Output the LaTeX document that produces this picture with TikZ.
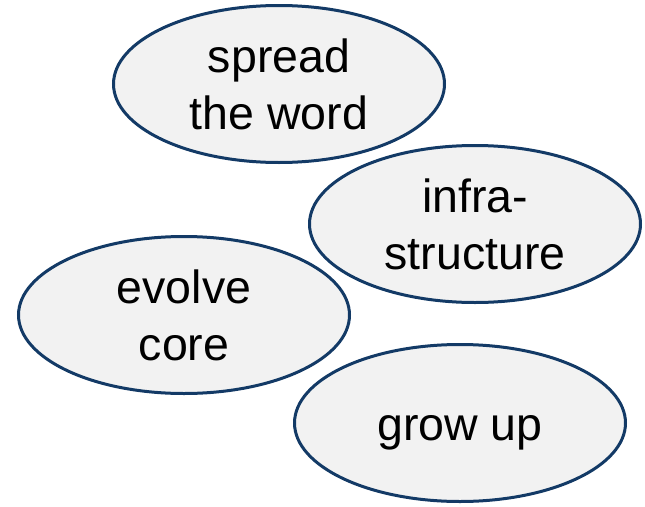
\documentclass[tikz,border=0pt]{standalone}
\usepackage{fontspec}
\setmainfont{Liberation Sans}
\usetikzlibrary{shapes.geometric}
\definecolor{edgeblue}{HTML}{133A66}
\definecolor{fillgray}{HTML}{F2F2F2}
\tikzset{
  bubble/.style={ellipse, draw=edgeblue, fill=fillgray, line width=3pt,
    minimum width=331pt, minimum height=157pt, inner sep=0pt, align=center,
    font=\fontsize{46.5}{57}\selectfont, text=black}
}
\begin{document}
\begin{tikzpicture}[x=1pt,y=1pt]
\useasboundingbox (0,0) rectangle (645,-506);
\node[bubble] (spread) at (279,-84) {spread\\the word};
\node[bubble] (infra) at (475,-224) {infra-\\structure};
\node[bubble] (evolve) at (184,-315) {evolve\\core};
\node[bubble, text height=34pt, text depth=0pt] (grow) at (460,-423) {grow up};
\end{tikzpicture}
\end{document}
